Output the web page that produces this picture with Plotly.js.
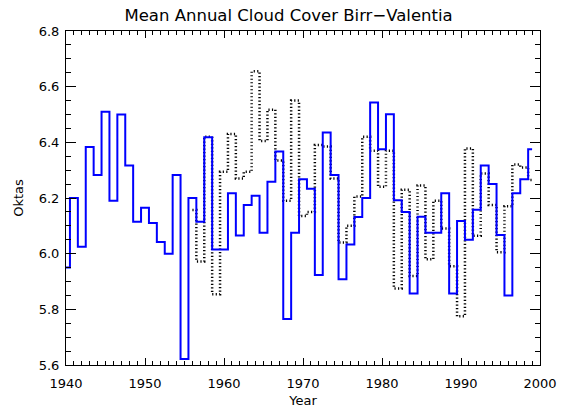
<!DOCTYPE html>
<html>
<head>
<meta charset="utf-8">
<script src="https://cdn.plot.ly/plotly-3.0.1.min.js"></script>
<style>html,body{margin:0;padding:0;background:#fff;}#chart{width:567px;height:411px;}</style>
</head>
<body>
<div id="chart"></div>
<script>
var birrYears = [1940,1941,1942,1943,1944,1945,1946,1947,1948,1949,1950,1951,1952,1953,1954,1955,1956,1957,1958,1959,1960,1961,1962,1963,1964,1965,1966,1967,1968,1969,1970,1971,1972,1973,1974,1975,1976,1977,1978,1979,1980,1981,1982,1983,1984,1985,1986,1987,1988,1989,1990,1991,1992,1993,1994,1995,1996,1997,1998,1999];
var birrValues = [5.95,6.20,6.025,6.383,6.283,6.51,6.19,6.50,6.317,6.115,6.165,6.11,6.042,6.00,6.283,5.622,6.20,6.115,6.418,6.015,6.015,6.217,6.065,6.175,6.208,6.075,6.258,6.367,5.765,6.075,6.267,6.233,5.923,6.435,6.283,5.908,6.033,6.132,6.20,6.543,6.375,6.501,6.192,6.15,5.857,6.133,6.075,6.075,6.217,5.857,6.117,6.05,6.158,6.317,6.25,6.067,5.85,6.217,6.267,6.375];
var valentiaYears = [1956,1957,1958,1959,1960,1961,1962,1963,1964,1965,1966,1967,1968,1969,1970,1971,1972,1973,1974,1975,1976,1977,1978,1979,1980,1981,1982,1983,1984,1985,1986,1987,1988,1989,1990,1991,1992,1993,1994,1995,1996,1997,1998,1999];
var valentiaValues = [6.157,5.972,6.42,5.854,6.294,6.43,6.27,6.294,6.655,6.405,6.517,6.335,6.19,6.55,6.135,6.15,6.39,6.385,6.27,6.04,6.10,6.205,6.42,6.37,6.24,6.37,5.875,6.23,5.92,6.245,5.98,6.19,6.09,5.955,5.775,6.378,6.064,6.288,6.175,6.005,6.17,6.32,6.31,6.265];

var fontFam = 'DejaVu Sans, sans-serif';
var traces = [
  {x: valentiaYears, y: valentiaValues, type: 'scatter', mode: 'lines', name: 'Valentia',
   line: {shape: 'hvh', color: '#000000', width: 2.5, dash: '1.2px,2.3px'}},
  {x: birrYears, y: birrValues, type: 'scatter', mode: 'lines', name: 'Birr',
   line: {shape: 'hvh', color: '#0000ff', width: 2}}
];
var layout = {
  width: 567, height: 411,
  margin: {l: 66, r: 27, t: 31, b: 46},
  paper_bgcolor: '#ffffff', plot_bgcolor: '#ffffff',
  showlegend: false,
  title: {text: 'Mean Annual Cloud Cover Birr\u2212Valentia', font: {family: fontFam, size: 16.5, color: '#000'}, x: 0.509, xanchor: 'center', y: 0.962, yanchor: 'middle'},
  xaxis: {
    range: [1940, 2000], tick0: 1940, dtick: 10, ticks: 'inside', ticklen: 7, tickwidth: 1, tickcolor: '#000',
    minor: {dtick: 1, ticks: 'inside', ticklen: 4, tickwidth: 1, tickcolor: '#000'},
    showline: true, linecolor: '#000', linewidth: 1, mirror: 'ticks', showgrid: false, zeroline: false,
    ticklabelstandoff: 6,
    tickfont: {family: fontFam, size: 13, color: '#000'},
    title: {text: 'Year', font: {family: fontFam, size: 13, color: '#000'}, standoff: 6}
  },
  yaxis: {
    range: [5.6, 6.8], tick0: 5.6, dtick: 0.2, tickformat: '.1f', ticks: 'inside', ticklen: 10, tickwidth: 1, tickcolor: '#000',
    minor: {dtick: 0.05, ticks: 'inside', ticklen: 5, tickwidth: 1, tickcolor: '#000'},
    showline: true, linecolor: '#000', linewidth: 1, mirror: 'ticks', showgrid: false, zeroline: false,
    ticklabelstandoff: 3,
    tickfont: {family: fontFam, size: 13, color: '#000'},
    title: {text: 'Oktas', font: {family: fontFam, size: 13, color: '#000'}, standoff: 12}
  }
};
Plotly.newPlot('chart', traces, layout, {displayModeBar: false, staticPlot: true});
</script>
</body>
</html>
